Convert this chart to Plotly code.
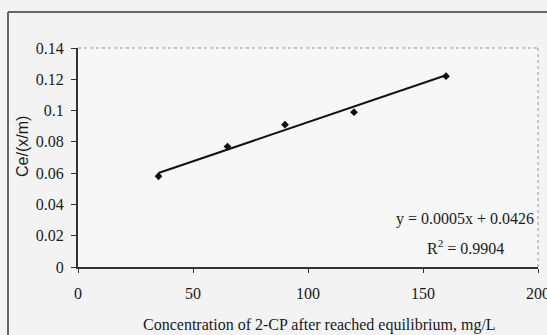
import plotly.graph_objects as go

# Measured equilibrium data for 2-CP adsorption
conc = [35, 65, 90, 120, 160]
ce_xm = [0.058, 0.077, 0.091, 0.099, 0.122]

# Linear fit as reported on the chart
slope = 0.0005
intercept = 0.0426
r_squared = 0.9904

x_ticks = [0, 50, 100, 150, 200]
y_ticks = [0, 0.02, 0.04, 0.06, 0.08, 0.1, 0.12, 0.14]
y_tick_text = ["0", "0.02", "0.04", "0.06", "0.08", "0.1", "0.12", "0.14"]

x_title = "Concentration of 2-CP after reached equilibrium, mg/L"
y_title = "Ce/(x/m)"

fit_x = [min(conc), max(conc)]
fit_y = [slope * v + intercept for v in fit_x]

W, H = 547, 335
L, R, T, B = 78, 9, 48, 68
pw, ph = W - L - R, H - T - B

fig = go.Figure()
fig.add_trace(go.Scatter(x=fit_x, y=fit_y, mode="lines",
                         line=dict(color="#111111", width=2), hoverinfo="skip"))
fig.add_trace(go.Scatter(x=conc, y=ce_xm, mode="markers",
                         marker=dict(symbol="diamond", size=6, color="#111111")))

serif = "Liberation Serif"
sans = "Liberation Sans"
ink = "#1a1a1a"

def px_x(px):
    return (px - L) / pw

def px_y(py):
    return 1 - (py - T) / ph

fig.update_layout(
    width=W, height=H,
    margin=dict(l=L, r=R, t=T, b=B, autoexpand=False),
    paper_bgcolor="#f3f3f3",
    plot_bgcolor="#f7f7f7",
    showlegend=False,
    font=dict(family=serif, size=16, color=ink),
    xaxis=dict(range=[0, 200], tickvals=x_ticks, ticktext=[str(v) for v in x_ticks],
               showgrid=False, zeroline=False, showline=True, linecolor="#333333",
               linewidth=2, ticks="outside", ticklen=4, tickcolor="#333333",
               ticklabelstandoff=7, ticklabeloverflow="allow", automargin=False,
               tickfont=dict(family=serif, size=16, color=ink)),
    yaxis=dict(range=[0, 0.14], tickvals=y_ticks, ticktext=y_tick_text,
               showgrid=False, zeroline=False, showline=True, linecolor="#333333",
               linewidth=2, ticks="outside", ticklen=5, tickcolor="#333333",
               ticklabelstandoff=4, ticklabeloverflow="allow", automargin=False,
               tickfont=dict(family=serif, size=16, color=ink)),
    shapes=[
        # dotted plot-area border on top and right
        dict(type="line", xref="paper", yref="paper", x0=0, x1=1, y0=1, y1=1,
             line=dict(color="#999999", width=1, dash="dot")),
        dict(type="line", xref="paper", yref="paper", x0=1, x1=1, y0=0, y1=1,
             line=dict(color="#999999", width=1, dash="dot")),
        # outer chart frame (top and left edges)
        dict(type="line", xref="paper", yref="paper", x0=px_x(8), x1=px_x(W + 5),
             y0=px_y(12), y1=px_y(12), line=dict(color="#666666", width=2)),
        dict(type="line", xref="paper", yref="paper", x0=px_x(8), x1=px_x(8),
             y0=px_y(12), y1=px_y(H + 5), line=dict(color="#666666", width=2)),
    ],
    annotations=[
        # axis titles
        dict(text=x_title, xref="paper", yref="paper",
             x=px_x(319), y=px_y(325), xanchor="center", yanchor="middle",
             showarrow=False, font=dict(family=serif, size=16, color=ink)),
        dict(text=y_title, xref="paper", yref="paper", textangle=-90,
             x=px_x(22), y=px_y(147), xanchor="center", yanchor="middle",
             showarrow=False, font=dict(family=sans, size=16, color=ink)),
        # fitted equation and R^2
        dict(text=f"y = {slope}x + {intercept}", xref="paper", yref="paper",
             x=px_x(536), y=px_y(219), xanchor="right", yanchor="middle",
             showarrow=False, font=dict(family=serif, size=16, color=ink)),
        dict(text=f"R<sup>2</sup> = {r_squared}", xref="paper", yref="paper",
             x=px_x(465), y=px_y(247), xanchor="center", yanchor="middle",
             showarrow=False, font=dict(family=serif, size=16, color=ink)),
    ],
)

fig.write_html("out.html")
